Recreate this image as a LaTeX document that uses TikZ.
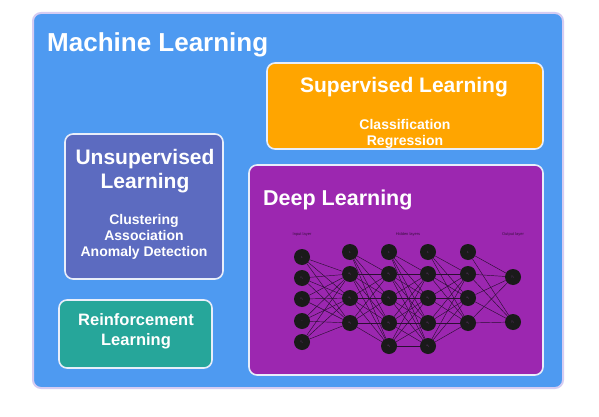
\documentclass[tikz,border=0pt]{standalone}
\usepackage{fontspec}
\setmainfont{Liberation Sans}
\definecolor{mlblue}{HTML}{4E9AF1}
\definecolor{outerborder}{HTML}{D5CCF2}
\definecolor{innerborder}{HTML}{E8EEFA}
\definecolor{suporange}{HTML}{FFA500}
\definecolor{unsupindigo}{HTML}{5C6BC0}
\definecolor{reinfteal}{HTML}{26A69A}
\definecolor{deeppurple}{HTML}{9C27B0}
\definecolor{neurfill}{HTML}{1A1A1A}
\definecolor{neurtext}{HTML}{6A3A7A}
\definecolor{edgecol}{HTML}{2B0F33}
\definecolor{laytext}{HTML}{3A1040}
\begin{document}
\begin{tikzpicture}[x=1pt,y=-1pt,
  box/.style={draw=innerborder, line width=1.6pt, rounded corners=8pt, inner sep=0pt},
  bigtitle/.style={text=white, font=\bfseries\fontsize{26}{26}\selectfont, inner sep=0pt},
  title/.style={text=white, font=\bfseries\fontsize{21}{21}\selectfont, inner sep=0pt},
  reintitle/.style={text=white, font=\bfseries\fontsize{16.5}{16.5}\selectfont, inner sep=0pt},
  sub/.style={text=white, font=\bfseries\fontsize{14}{14}\selectfont, inner sep=0pt},
  neuron/.style={circle, fill=neurfill, minimum size=16pt, inner sep=0pt, text=neurtext, font=\fontsize{3}{3}\selectfont},
  laylabel/.style={text=laytext, font=\fontsize{4}{4}\selectfont, inner sep=0pt},
  edge/.style={draw=edgecol, line width=0.45pt}]
\useasboundingbox (0,0) rectangle (599,417);
\fill[white] (0,0) rectangle (599,417);

% boxes
\node[box, draw=outerborder, line width=2pt, fill=mlblue, minimum width=530pt, minimum height=375pt] (ml) at (298,200.5) {};
\node[box, fill=suporange, minimum width=276pt, minimum height=86pt] (sup) at (405,106) {};
\node[box, fill=unsupindigo, minimum width=158pt, minimum height=145pt] (unsup) at (144,206.5) {};
\node[box, fill=reinfteal, minimum width=153pt, minimum height=68pt] (reinf) at (135.5,334) {};
\node[box, fill=deeppurple, minimum width=294pt, minimum height=210pt] (deep) at (396,270) {};

% texts
\node[bigtitle, anchor=base west] (mlt) at (47,52) {Machine Learning};
\node[title, anchor=base] (supt) at (404,93) {Supervised Learning};
\node[sub, anchor=base] (sup1) at (405,129) {Classification};
\node[sub, anchor=base] (sup2) at (405,145) {Regression};
\node[title, anchor=base] (unst1) at (145,164.5) {Unsupervised};
\node[title, anchor=base] (unst2) at (145,188.5) {Learning};
\node[sub, anchor=base] (uns1) at (144,224) {Clustering};
\node[sub, anchor=base] (uns2) at (144,240) {Association};
\node[sub, anchor=base] (uns3) at (144,256.5) {Anomaly Detection};
\node[reintitle, anchor=base] (reint1) at (136,325.5) {Reinforcement};
\node[reintitle, anchor=base] (reint2) at (136,345.5) {Learning};
\node[title, font=\bfseries\fontsize{21.5}{21.5}\selectfont, anchor=base west] (deept) at (263,205) {Deep Learning};

% layer labels
\node[laylabel] (lin) at (302,234) {Input layer};
\node[laylabel] (lhid) at (408,234) {Hidden layers};
\node[laylabel] (lout) at (513,234) {Output layer};

% neurons
\foreach \y/\t [count=\i] in {257/1, 278/{x\textsubscript{1}}, 299/{x\textsubscript{2}}, 321/{...}, 342/{x\textsubscript{n}}}
  \node[neuron] (a0-\i) at (302,\y) {\t};
\foreach \y/\t [count=\i] in {252/1, 274/{a\textsubscript{1}}, 298/{a\textsubscript{2}}, 323/{a\textsubscript{3}}}
  \node[neuron] (a1-\i) at (350,\y) {\t};
\foreach \y/\t [count=\i] in {252/1, 274/{a\textsubscript{1}}, 298/{a\textsubscript{2}}, 323/{a\textsubscript{3}}, 346/{a\textsubscript{4}}}
  \node[neuron] (a2-\i) at (389,\y) {\t};
\foreach \y/\t [count=\i] in {252/1, 274/{a\textsubscript{1}}, 298/{a\textsubscript{2}}, 323/{a\textsubscript{3}}, 346/{a\textsubscript{4}}}
  \node[neuron] (a3-\i) at (428,\y) {\t};
\foreach \y/\t [count=\i] in {252/1, 274/{a\textsubscript{1}}, 298/{a\textsubscript{2}}, 323/{a\textsubscript{3}}}
  \node[neuron] (a4-\i) at (468,\y) {\t};
\foreach \y/\t [count=\i] in {277/{y\textsubscript{1}}, 322/{y\textsubscript{2}}}
  \node[neuron] (a5-\i) at (513,\y) {\t};

% connections
\foreach \i in {1,...,5} \foreach \j in {2,3,4} \draw[edge] (a0-\i) -- (a1-\j);
\foreach \i in {1,...,4} \foreach \j in {2,3,4,5} \draw[edge] (a1-\i) -- (a2-\j);
\foreach \i in {1,...,5} \foreach \j in {2,3,4,5} \draw[edge] (a2-\i) -- (a3-\j);
\foreach \i in {1,...,5} \foreach \j in {2,3,4} \draw[edge] (a3-\i) -- (a4-\j);
\foreach \i in {1,...,4} \foreach \j in {1,2} \draw[edge] (a4-\i) -- (a5-\j);
\end{tikzpicture}
\end{document}
